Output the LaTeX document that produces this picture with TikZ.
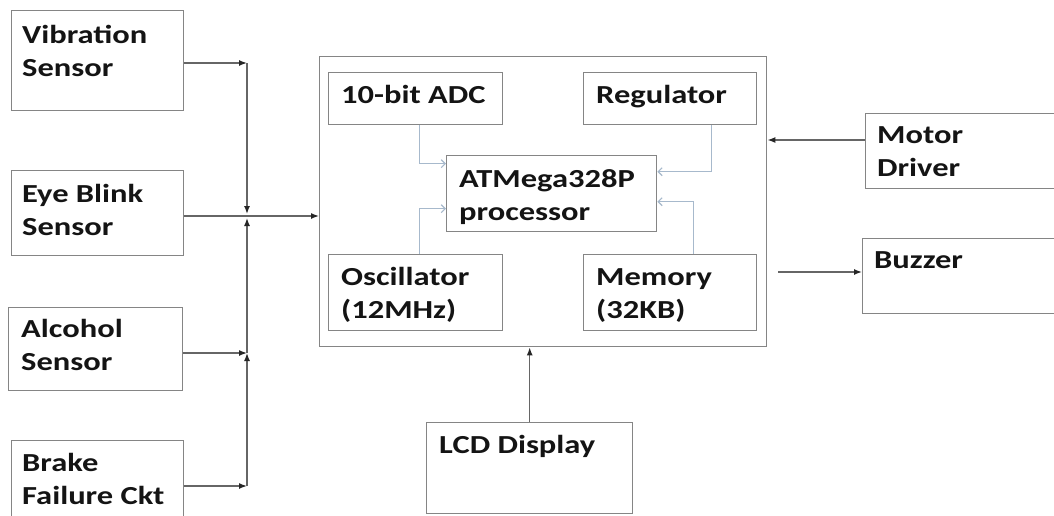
\documentclass[tikz,border=0pt]{standalone}
\usepackage{fontspec}
\setmainfont{Carlito}[FakeStretch=1.25]
\usetikzlibrary{arrows.meta}
\definecolor{boxgray}{HTML}{858585}
\definecolor{linegray}{HTML}{666666}
\definecolor{bluegray}{HTML}{A7B9CC}
\definecolor{txt}{HTML}{141414}
\begin{document}
\begin{tikzpicture}[x=1pt,y=-1pt,
  box/.style={draw=boxgray, line width=1.4pt, rectangle, inner sep=0pt, anchor=north west},
  lab/.style={anchor=base west, inner sep=0pt, font=\fontsize{26}{33}\selectfont\bfseries, text=txt, align=left},
  conn/.style={draw=linegray, line width=1.4pt, -{Latex[length=8pt,width=6pt,color=black!85]}},
  innerc/.style={draw=bluegray, line width=1.1pt, -{Straight Barb[length=4pt,width=8pt]}}]
\useasboundingbox[fill=white] (0,0) rectangle (1054,515);

% left sensors (two-line labels are anchored at the baseline of their last line)
\node[box, minimum width=172pt, minimum height=100pt] (vib) at (11,10) {};
\node[lab] (vibt) at (22,76) {Vibration\\Sensor};
\node[box, minimum width=172pt, minimum height=85pt] (eye) at (11,170) {};
\node[lab] (eyet) at (22,235) {Eye Blink\\Sensor};
\node[box, minimum width=174pt, minimum height=83pt] (alc) at (8,307) {};
\node[lab] (alct) at (21,370) {Alcohol\\Sensor};
\node[box, minimum width=172pt, minimum height=90pt] (brk) at (11,440) {};
\node[lab] (brkt) at (22,504) {Brake\\Failure Ckt};

% main controller
\node[box, minimum width=447pt, minimum height=290pt] (main) at (319,56) {};
\node[box, minimum width=174pt, minimum height=52pt] (adc) at (328,72) {};
\node[lab] (adct) at (341,103) {10-bit ADC};
\node[box, minimum width=173pt, minimum height=52pt] (reg) at (583,72) {};
\node[lab] (regt) at (596,103) {Regulator};
\node[box, minimum width=210pt, minimum height=76pt] (atm) at (446,155) {};
\node[lab] (atmt) at (459,220) {ATMega328P\\processor};
\node[box, minimum width=174pt, minimum height=76pt] (osc) at (328,254) {};
\node[lab] (osct) at (341,318) {Oscillator\\(12MHz)};
\node[box, minimum width=173pt, minimum height=76pt] (mem) at (583,254) {};
\node[lab] (memt) at (596,318) {Memory\\(32KB)};

% right side and bottom
\node[box, minimum width=210pt, minimum height=75pt] (mot) at (865,113) {};
\node[lab] (mott) at (877,176) {Motor\\Driver};
\node[box, minimum width=210pt, minimum height=75pt] (buz) at (862,238) {};
\node[lab] (buzt) at (874,268) {Buzzer};
\node[box, minimum width=206pt, minimum height=91pt] (lcd) at (426,422) {};
\node[lab] (lcdt) at (439,453) {LCD Display};

% bus coordinates
\coordinate (jV) at (247,63);
\coordinate (jE) at (247,216);
\coordinate (jA) at (247,353);
\coordinate (jB) at (247,486);
\coordinate (jM) at (800,140);
\coordinate (bz0) at (778,272);

\draw[conn] (vib.east |- jV) -- (jV);
\draw[conn] (jV) -- ([yshift=2pt]jE);
\draw[conn] (eye.east |- jE) -- (main.west |- jE);
\draw[conn] (alc.east |- jA) -- (jA);
\draw[conn] (jA) -- ([yshift=-2pt]jE);
\draw[conn] (brk.east |- jB) -- (jB);
\draw[conn] (jB) -- (jA);

\draw[conn] (mot.west |- jM) -- (main.east |- jM);
\draw[conn] (bz0) -- (buz.west |- bz0);
\draw[conn] (lcd.north) -- (lcd.north |- main.south);

% inner connectors
\draw[innerc] ([xshift=4pt]adc.south) |- ([yshift=30pt]atm.west);
\draw[innerc] ([xshift=4pt]osc.north) |- ([yshift=-15pt]atm.west);
\draw[innerc] ([xshift=41.5pt]reg.south) |- ([yshift=22pt]atm.east);
\draw[innerc] ([xshift=23.5pt]mem.north) |- ([yshift=-8pt]atm.east);
\end{tikzpicture}
\end{document}
